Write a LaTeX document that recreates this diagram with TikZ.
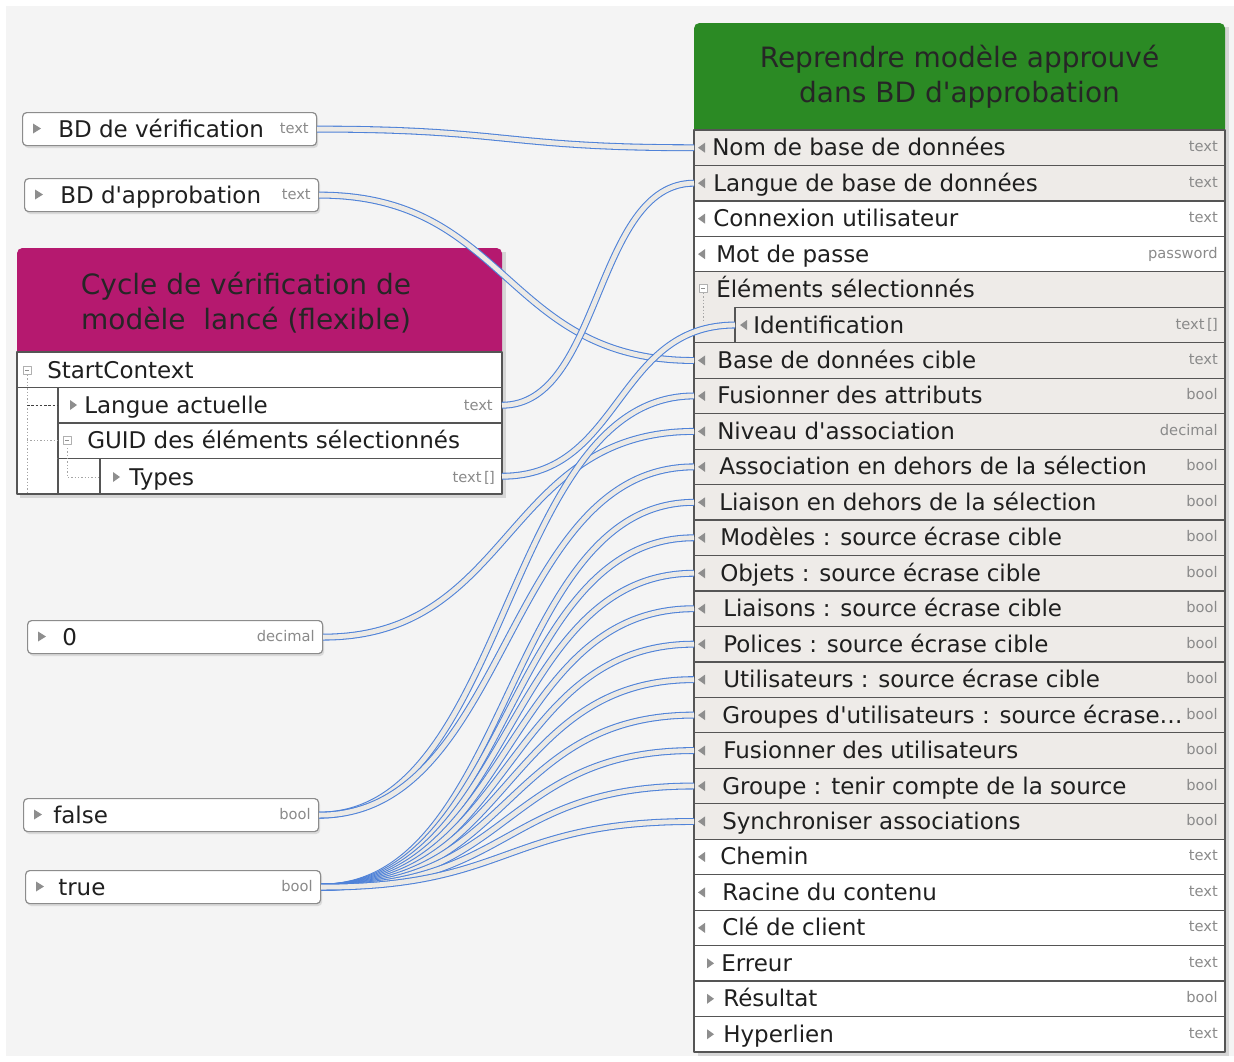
\documentclass[tikz,border=0pt]{standalone}
\usepackage{fontspec}
\setmainfont{DejaVu Sans}[Ligatures=TeXOff]
\usetikzlibrary{shadows}
\definecolor{canvas}{HTML}{F4F4F4}
\definecolor{boxedge}{HTML}{8C8C8C}
\definecolor{rowedge}{HTML}{555555}
\definecolor{rowgrey}{HTML}{EEEBE8}
\definecolor{headgreen}{HTML}{2B8A24}
\definecolor{headmag}{HTML}{B5196F}
\definecolor{connblue}{HTML}{4F82D8}
\definecolor{connfill}{HTML}{ECEAE6}
\definecolor{typegrey}{HTML}{8A8A8A}
\definecolor{tick}{HTML}{8E8E8E}
\newcommand{\pxw}{0.75pt}
\newcommand{\arrtag}{\,[\kern-0.6pt]}

\begin{document}
\begin{tikzpicture}[x=0.75pt,y=-0.75pt,line join=round,
  lab/.style={anchor=base west,inner sep=0pt,font=\fontsize{17.25}{20}\selectfont,text=black!88},
  typ/.style={anchor=base east,inner sep=0pt,font=\fontsize{11}{13}\selectfont,text=typegrey},
  head/.style={align=center,inner sep=0pt,font=\fontsize{21}{26.25}\selectfont,text=black!85},
  valbox/.style={draw=boxedge,fill=white,line width=0.9pt,rounded corners=3pt,anchor=north west,
    inner sep=0pt,minimum height=33*\pxw,drop shadow={shadow xshift=1.2pt,shadow yshift=-1.8pt,opacity=0.22}},
  row/.style={draw=rowedge,line width=0.9pt,anchor=north west,inner sep=0pt,outer sep=0pt,minimum height=35.46*\pxw},
  grpicon/.style={draw=tick!70,fill=white,line width=0.5pt},
  tree/.style={draw=tick!80,line width=0.5pt,dash pattern=on 1pt off 1.5pt},
  conn/.style={draw=connblue,line width=0.8pt,double=connfill,double distance=3.6pt},
]
  \useasboundingbox (0,0) rectangle (1234,1061);
  % ---- canvas ----
  \fill[white] (0,0) rectangle (1234,1061);
  \fill[canvas] (6,6) rectangle (1234,1056);

  % ---- constant / variable boxes on the left ----
  \foreach \n/\x/\y/\w/\tx/\lab/\typ in {bdver/22/112/294/58/BD de vérification/text,
      bdapp/24/178/294/60/BD d'approbation/text,
      zero/27/620/295/62/0/decimal,
      valfalse/23/798/295/53/false/bool,
      valtrue/25/870/295/58/true/bool}{
    \node[valbox,minimum width=\w*\pxw] (\n) at (\x,\y) {};
    \node[lab] (\n-lab) at (\tx,\y+25) {\lab};
    \node[typ] (\n-typ) at (\x+\w-7,\y+21) {\typ};
    \fill[tick] (\x+11,\y+11.5) -- (\x+19,\y+16.5) -- (\x+11,\y+21.5) -- cycle;
  }

  % ---- source activity (magenta) ----
  \fill[black,opacity=0.12] (20,252) rectangle (506,498);
  \fill[headmag,rounded corners=4pt] (17,248) rectangle (502,356);
  \node[head] (srchead) at (246,303) {Cycle de vérification de\\modèle\ \ lancé (flexible)};
  \fill[white] (17,352) rectangle (502,494);
  \node[row,fill=white,minimum width=485*\pxw] (ctx) at (17,352) {};
  \node[row,fill=white,minimum width=444*\pxw] (langact) at (58,387.5) {};
  \node[row,fill=white,minimum width=444*\pxw] (guid) at (58,423) {};
  \node[row,fill=white,minimum width=402*\pxw] (types) at (100,458.5) {};
  \draw[rowedge,line width=0.9pt] (17,352) -- (17,494) -- (100,494) (58,458.5) -- (58,494);
  % tree lines
  \draw[tree] (27,375) -- (27,494) (27,440) -- (58,440) (67,448) -- (67,477) -- (100,477);
  \draw[black!75,line width=0.6pt,dash pattern=on 2pt off 1.2pt] (27,405) -- (58,405);
  \foreach \cx/\cy in {27/370,67/440}{
    \draw[grpicon] (\cx-4,\cy-4) rectangle (\cx+4,\cy+4);
    \draw[tick,line width=0.5pt] (\cx-2,\cy) -- (\cx+2,\cy);
  }
  \fill[tick] (70,400) -- (77,405) -- (70,410) -- cycle;
  \fill[tick] (113,472) -- (120,477) -- (113,482) -- cycle;
  \node[lab] (ctx-lab) at (47,378) {StartContext};
  \node[lab] (langact-lab) at (84,413) {Langue actuelle};
  \node[typ] (langact-typ) at (493,410) {text};
  \node[lab] (guid-lab) at (87,448) {GUID des éléments sélectionnés};
  \node[lab] (types-lab) at (129,485) {Types};
  \node[typ] (types-typ) at (495,482) {text\arrtag};

  % ---- target activity (green) ----
  \fill[black,opacity=0.12] (698,27) rectangle (1229,1056);
  \fill[headgreen,rounded corners=4pt] (694,23) rectangle (1225,134);
  \node[head] (tgthead) at (959.5,77) {Reprendre modèle approuvé\\dans BD d'approbation};
  % grouping row (holds the Identification row)
  \node[row,fill=rowgrey,minimum width=531*\pxw,minimum height=70.92*\pxw] (r5) at (694,271.8) {};
  \node[lab] (rl5) at (716,297.5) {Éléments sélectionnés};
  \draw[grpicon] (699,284) rectangle (707,292);
  \draw[tick,line width=0.5pt] (701,288) -- (705,288);
  \draw[tree] (703,293) -- (703,320);
  % parameter rows
  \foreach \i/\xs/\xt/\mx/\d/\lab/\typ/\fc in {
      1/694/712/698/1/Nom de base de données/text/rowgrey,
      2/694/713/698/1/Langue de base de données/text/rowgrey,
      3/694/713/698/1/Connexion utilisateur/text/white,
      4/694/716/698/1/Mot de passe/password/white,
      6/735/753/740/1/Identification/text\arrtag/rowgrey,
      7/694/717/698/1/Base de données cible/text/rowgrey,
      8/694/717/698/1/Fusionner des attributs/bool/rowgrey,
      9/694/717/698/1/Niveau d'association/decimal/rowgrey,
      10/694/719/698/1/Association en dehors de la sélection/bool/rowgrey,
      11/694/719/698/1/Liaison en dehors de la sélection/bool/rowgrey,
      12/694/720/698/1/Modèles : source écrase cible/bool/rowgrey,
      13/694/720/698/1/Objets : source écrase cible/bool/rowgrey,
      14/694/723/698/1/Liaisons : source écrase cible/bool/rowgrey,
      15/694/723/698/1/Polices : source écrase cible/bool/rowgrey,
      16/694/723/698/1/Utilisateurs : source écrase cible/bool/rowgrey,
      17/694/722/698/1/Groupes d'utilisateurs : source écrase{\ldots}/bool/rowgrey,
      18/694/723/698/1/Fusionner des utilisateurs/bool/rowgrey,
      19/694/722/698/1/Groupe : tenir compte de la source/bool/rowgrey,
      20/694/722/698/1/Synchroniser associations/bool/rowgrey,
      21/694/720/698/1/Chemin/text/white,
      22/694/722/698/1/Racine du contenu/text/white,
      23/694/722/698/1/Clé de client/text/white,
      24/694/721/714/-1/Erreur/text/white,
      25/694/723/714/-1/Résultat/bool/white,
      26/694/723/714/-1/Hyperlien/text/white}{
    \pgfmathsetmacro\yt{130+(\i-1)*35.46}
    \pgfmathsetmacro\ym{\yt+17.73}
    \pgfmathsetmacro\rw{(1225-\xs)*0.75}
    \node[row,fill=\fc,minimum width=\rw pt] (r\i) at (\xs,\yt) {};
    \node[lab] (rl\i) at (\xt,\ym+8) {\lab};
    \node[typ] (rt\i) at (1218,\ym+4) {\typ};
    \fill[tick] (\mx,\ym) -- (\mx+7*\d,\ym-5) -- (\mx+7*\d,\ym+5) -- cycle;
  }

  % ---- connectors ----
  \draw[conn] (bdver.east) .. controls +(190,0) and +(-190,0) .. (r1.west);
  \draw[conn] (bdapp.east) .. controls +(190,0) and +(-190,0) .. (r7.west);
  \draw[conn] (langact.east) .. controls +(100,0) and +(-100,0) .. (r2.west);
  \draw[conn] (types.east) .. controls +(120,0) and +(-120,0) .. (r6.west);
  \draw[conn] (zero.east) .. controls +(190,0) and +(-190,0) .. (r9.west);
  \foreach \t in {8,10}
    \draw[conn] (valfalse.east) .. controls +(190,0) and +(-190,0) .. (r\t.west);
  \foreach \t in {11,...,20}
    \draw[conn] (valtrue.east) .. controls +(190,0) and +(-190,0) .. (r\t.west);
\end{tikzpicture}
\end{document}
